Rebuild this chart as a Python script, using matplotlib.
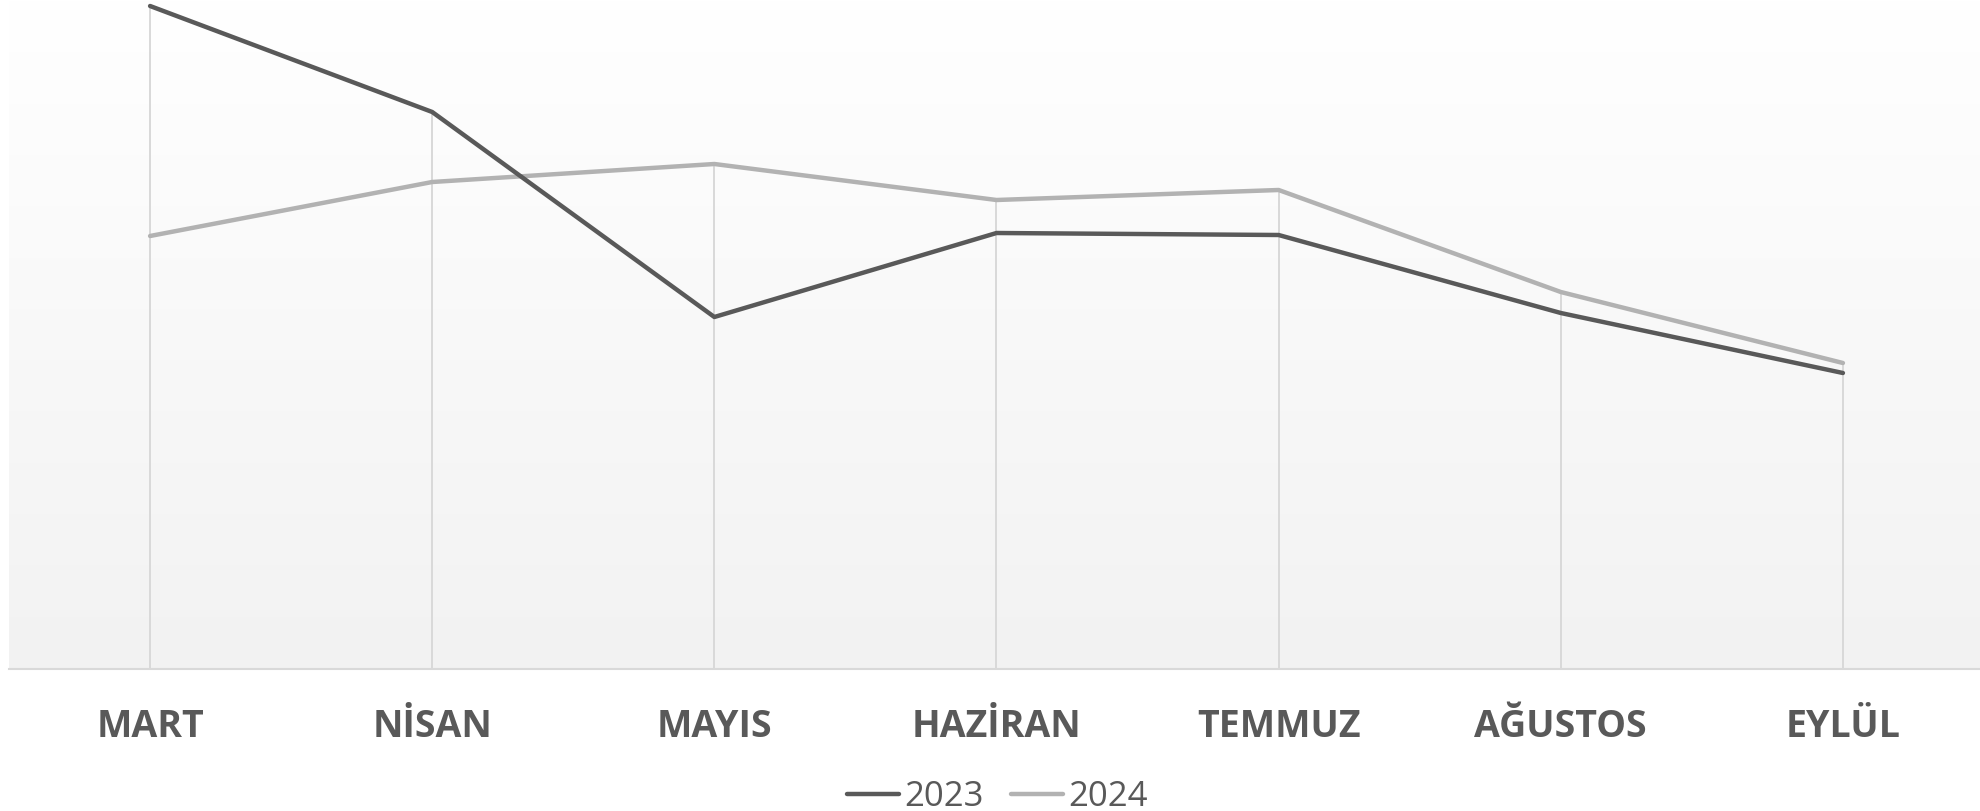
import numpy as np
import matplotlib.pyplot as plt

months = ["MART", "NİSAN", "MAYIS", "HAZİRAN", "TEMMUZ", "AĞUSTOS", "EYLÜL"]
values_2023 = [663, 557, 352, 436, 434, 356, 296]
values_2024 = [433, 487, 505, 469, 479, 377, 306]

plt.rcParams['font.family'] = ['Open Sans', 'DejaVu Sans']

fig = plt.figure(figsize=(19.81, 8.11), dpi=100)
ax = fig.add_axes([9 / 1981, 142 / 811, 1975 / 1981, 669 / 811])

# soft vertical gradient behind the plot
grad = np.linspace(1, 0, 256).reshape(-1, 1)
ax.imshow(grad, cmap=plt.matplotlib.colors.LinearSegmentedColormap.from_list(
    "bg", ["#f2f2f2", "#ffffff"]), extent=[0, 1, 0, 1], transform=ax.transAxes,
    aspect="auto", zorder=0, vmin=0, vmax=1)

x = np.arange(len(months))
# drop lines from the highest point down to the axis
tops = np.maximum(values_2023, values_2024)
ax.vlines(x, 0, tops, color="#d9d9d9", lw=1.4, zorder=1)

ax.plot(x, values_2023, color="#595959", lw=3.2, label="2023", zorder=3,
        solid_capstyle="round", clip_on=False)
ax.plot(x, values_2024, color="#b2b2b2", lw=3.2, label="2024", zorder=2,
        solid_capstyle="round", clip_on=False)

ax.set_xlim(-0.5, len(months) - 0.5)
ax.set_ylim(0, 669)
ax.set_yticks([])
ax.set_xticks(x)
ax.set_xticklabels(months, fontsize=27, fontweight="bold", color="#595959")
ax.tick_params(axis="x", length=0, pad=28)

for side in ["top", "right", "left"]:
    ax.spines[side].set_visible(False)
ax.spines["bottom"].set_color("#d9d9d9")
ax.spines["bottom"].set_linewidth(1.5)

leg = fig.legend(loc="center", bbox_to_anchor=(0.5035, 1 - 797 / 811), ncol=2,
                 frameon=False, fontsize=25, handlelength=1.5, handletextpad=0.15,
                 columnspacing=0.8, borderpad=0)
for t in leg.get_texts():
    t.set_color("#595959")

fig.savefig("out.png", dpi=100)
